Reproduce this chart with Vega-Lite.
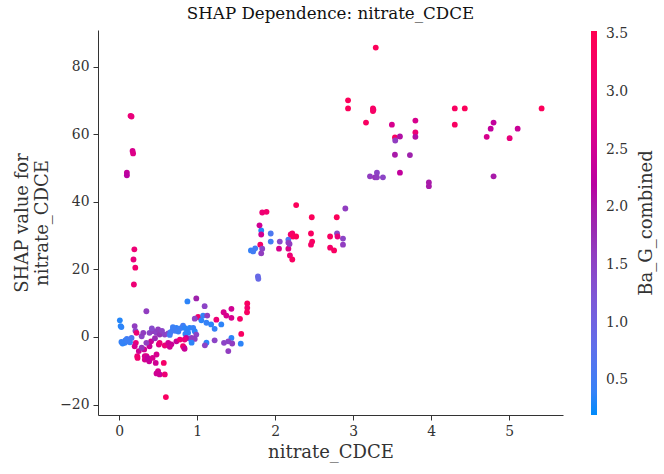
{
  "$schema": "https://vega.github.io/schema/vega-lite/v6.json",
  "width": 465,
  "height": 385,
  "autosize": "none",
  "padding": {"left": 98, "top": 30, "right": 101, "bottom": 59},
  "config": {
    "view": {"stroke": null},
    "font": "DejaVu Serif",
    "axis": {
      "grid": false,
      "domainColor": "#333333",
      "tickColor": "#333333",
      "labelColor": "#333333",
      "titleColor": "#333333",
      "labelFont": "DejaVu Serif",
      "titleFont": "DejaVu Serif",
      "labelFontSize": 13.9,
      "titleFontSize": 18,
      "titleFontWeight": "normal",
      "tickSize": 5,
      "domainWidth": 1,
      "tickWidth": 1
    }
  },
  "title": {
    "text": "SHAP Dependence: nitrate_CDCE",
    "font": "DejaVu Serif",
    "fontSize": 16.7,
    "fontWeight": "normal",
    "color": "#111111",
    "anchor": "middle",
    "offset": 7
  },
  "data": {
    "values": [
      {"x": 0.147, "y": 65.4, "c": 3.0}, {"x": 0.16, "y": 65.2, "c": 2.9},
      {"x": 0.173, "y": 55.0, "c": 2.6}, {"x": 0.18, "y": 54.3, "c": 2.7},
      {"x": 0.1, "y": 48.6, "c": 2.3}, {"x": 0.1, "y": 47.8, "c": 2.2},
      {"x": 0.196, "y": 25.9, "c": 3.0}, {"x": 0.185, "y": 22.9, "c": 2.9},
      {"x": 0.208, "y": 20.5, "c": 3.1}, {"x": 0.19, "y": 15.5, "c": 3.0},

      {"x": 0.01, "y": 4.9, "c": 0.3}, {"x": 0.02, "y": 3.2, "c": 0.3},
      {"x": 0.03, "y": 2.9, "c": 0.35}, {"x": 0.074, "y": -1.75, "c": 0.4},
      {"x": 0.045, "y": -1.95, "c": 0.35}, {"x": 0.118, "y": -1.3, "c": 0.5},
      {"x": 0.16, "y": -0.3, "c": 0.6}, {"x": 0.1, "y": -0.6, "c": 0.5},
      {"x": 0.08, "y": -1.0, "c": 0.45}, {"x": 0.03, "y": -1.5, "c": 0.4},
      {"x": 0.14, "y": -1.6, "c": 0.45},

      {"x": 0.2, "y": 3.2, "c": 1.6}, {"x": 0.21, "y": 1.8, "c": 1.5},
      {"x": 0.224, "y": 1.2, "c": 3.0}, {"x": 0.215, "y": -1.75, "c": 2.9},
      {"x": 0.2, "y": -2.75, "c": 2.6}, {"x": 0.233, "y": -5.7, "c": 3.0},
      {"x": 0.253, "y": -4.2, "c": 2.5}, {"x": 0.237, "y": -6.2, "c": 3.1},
      {"x": 0.33, "y": -5.7, "c": 2.5}, {"x": 0.33, "y": -6.7, "c": 2.6},
      {"x": 0.386, "y": -7.2, "c": 2.4}, {"x": 0.352, "y": -5.7, "c": 2.7},
      {"x": 0.364, "y": -6.2, "c": 2.3}, {"x": 0.43, "y": -6.2, "c": 2.6},
      {"x": 0.48, "y": -5.2, "c": 2.6}, {"x": 0.47, "y": -7.7, "c": 2.5},
      {"x": 0.573, "y": -7.7, "c": 3.2}, {"x": 0.5, "y": -10.1, "c": 2.6},
      {"x": 0.52, "y": -11.1, "c": 2.4}, {"x": 0.48, "y": -10.8, "c": 2.5},
      {"x": 0.586, "y": -11.1, "c": 3.0}, {"x": 0.6, "y": -17.8, "c": 3.3},
      {"x": 0.322, "y": -3.7, "c": 2.5}, {"x": 0.41, "y": -1.3, "c": 2.4},
      {"x": 0.51, "y": -2.25, "c": 2.7}, {"x": 0.586, "y": -2.55, "c": 3.0},
      {"x": 0.834, "y": -3.2, "c": 2.3}, {"x": 0.39, "y": -2.75, "c": 2.4},
      {"x": 0.35, "y": -1.75, "c": 1.6}, {"x": 0.29, "y": -3.2, "c": 1.7},

      {"x": 0.29, "y": 0.2, "c": 1.5}, {"x": 0.31, "y": 1.2, "c": 1.6},
      {"x": 0.39, "y": 1.2, "c": 1.5}, {"x": 0.44, "y": 1.7, "c": 1.6},
      {"x": 0.48, "y": 1.2, "c": 1.5}, {"x": 0.52, "y": 0.7, "c": 1.7},
      {"x": 0.585, "y": 0.7, "c": 1.5}, {"x": 0.5, "y": 2.2, "c": 1.6},
      {"x": 0.63, "y": 1.0, "c": 1.4}, {"x": 0.35, "y": 7.6, "c": 1.6},
      {"x": 0.42, "y": 2.5, "c": 1.4}, {"x": 0.55, "y": 1.8, "c": 1.5},
      {"x": 0.46, "y": -0.4, "c": 1.8},

      {"x": 0.63, "y": -1.75, "c": 2.5}, {"x": 0.67, "y": -2.2, "c": 2.4},
      {"x": 0.735, "y": -1.3, "c": 2.4}, {"x": 0.78, "y": -0.8, "c": 3.0},
      {"x": 0.82, "y": -2.75, "c": 3.1}, {"x": 0.52, "y": -1.75, "c": 3.0},
      {"x": 0.65, "y": -2.9, "c": 2.5},

      {"x": 0.69, "y": 2.2, "c": 0.4}, {"x": 0.735, "y": 2.7, "c": 0.35},
      {"x": 0.8, "y": 2.7, "c": 0.4}, {"x": 0.77, "y": 2.4, "c": 0.45},
      {"x": 0.72, "y": 1.8, "c": 0.5}, {"x": 0.66, "y": 1.4, "c": 0.5},
      {"x": 0.69, "y": 2.9, "c": 0.45}, {"x": 0.82, "y": 3.3, "c": 0.5},
      {"x": 0.85, "y": 0.9, "c": 0.35}, {"x": 0.9, "y": -0.5, "c": 0.4},
      {"x": 0.65, "y": 0.6, "c": 0.5}, {"x": 0.76, "y": 1.6, "c": 0.45},
      {"x": 0.87, "y": 1.6, "c": 0.4},

      {"x": 0.99, "y": 11.4, "c": 1.9}, {"x": 0.876, "y": 10.5, "c": 0.35},
      {"x": 1.097, "y": 9.1, "c": 1.5}, {"x": 1.013, "y": 5.9, "c": 3.1},
      {"x": 1.077, "y": 6.3, "c": 0.4}, {"x": 1.13, "y": 6.3, "c": 1.6},
      {"x": 0.97, "y": 5.4, "c": 1.5}, {"x": 1.055, "y": 4.9, "c": 0.35},
      {"x": 1.12, "y": 4.2, "c": 0.4}, {"x": 1.247, "y": 5.1, "c": 3.0},
      {"x": 1.31, "y": 3.7, "c": 0.35}, {"x": 1.18, "y": 3.7, "c": 0.35},
      {"x": 1.225, "y": 2.4, "c": 0.4}, {"x": 0.84, "y": 2.7, "c": 0.35},
      {"x": 0.905, "y": 2.7, "c": 0.35}, {"x": 0.95, "y": 2.7, "c": 0.4},
      {"x": 0.97, "y": 1.7, "c": 0.35}, {"x": 0.885, "y": 1.2, "c": 0.35},
      {"x": 0.99, "y": 0.7, "c": 1.5}, {"x": 0.86, "y": -0.3, "c": 2.4},
      {"x": 0.93, "y": -0.3, "c": 1.6}, {"x": 0.84, "y": -0.8, "c": 2.9},
      {"x": 0.97, "y": -0.6, "c": 1.6}, {"x": 0.93, "y": -1.7, "c": 0.35},
      {"x": 1.12, "y": -1.7, "c": 0.35}, {"x": 1.1, "y": -2.5, "c": 1.5},
      {"x": 1.225, "y": -1.0, "c": 1.5}, {"x": 0.84, "y": -3.5, "c": 2.4},
      {"x": 1.566, "y": 0.9, "c": 3.3}, {"x": 1.44, "y": -0.3, "c": 0.35},
      {"x": 1.4, "y": -1.3, "c": 1.5}, {"x": 1.345, "y": -1.75, "c": 1.5},
      {"x": 1.4, "y": -4.2, "c": 1.6}, {"x": 1.56, "y": -2.0, "c": 0.35},
      {"x": 1.45, "y": -1.95, "c": 1.6}, {"x": 1.34, "y": 7.3, "c": 2.6},
      {"x": 1.375, "y": 6.3, "c": 2.6}, {"x": 1.44, "y": 5.65, "c": 2.6},
      {"x": 1.44, "y": 8.3, "c": 2.5}, {"x": 1.55, "y": 5.35, "c": 3.2},
      {"x": 1.643, "y": 9.9, "c": 3.3}, {"x": 1.643, "y": 8.6, "c": 3.1},
      {"x": 1.64, "y": 7.3, "c": 3.3},

      {"x": 1.78, "y": 17.9, "c": 0.9}, {"x": 1.785, "y": 17.2, "c": 0.9},
      {"x": 1.69, "y": 25.6, "c": 0.4}, {"x": 1.745, "y": 26.2, "c": 0.5},
      {"x": 1.72, "y": 25.3, "c": 0.5}, {"x": 1.81, "y": 27.3, "c": 3.2},
      {"x": 1.835, "y": 26.1, "c": 1.5}, {"x": 1.822, "y": 24.7, "c": 1.6},
      {"x": 1.822, "y": 31.5, "c": 0.3}, {"x": 1.8, "y": 33.0, "c": 2.5},
      {"x": 1.822, "y": 30.3, "c": 2.5}, {"x": 1.835, "y": 36.8, "c": 3.0},
      {"x": 1.89, "y": 37.0, "c": 3.1}, {"x": 1.944, "y": 30.6, "c": 0.6},
      {"x": 1.944, "y": 28.2, "c": 0.5}, {"x": 2.06, "y": 28.2, "c": 1.4},
      {"x": 2.05, "y": 26.1, "c": 2.6}, {"x": 2.17, "y": 28.8, "c": 0.6},
      {"x": 2.17, "y": 27.9, "c": 1.5}, {"x": 2.17, "y": 26.1, "c": 2.7},
      {"x": 2.2, "y": 30.3, "c": 3.1}, {"x": 2.22, "y": 30.6, "c": 3.2},
      {"x": 2.23, "y": 29.7, "c": 3.3}, {"x": 2.27, "y": 29.7, "c": 3.4},
      {"x": 2.19, "y": 24.1, "c": 3.0}, {"x": 2.22, "y": 22.9, "c": 3.3},
      {"x": 2.27, "y": 39.0, "c": 3.4}, {"x": 2.185, "y": 27.5, "c": 1.6},

      {"x": 2.46, "y": 30.6, "c": 3.3}, {"x": 2.47, "y": 35.4, "c": 3.4},
      {"x": 2.475, "y": 28.2, "c": 3.3}, {"x": 2.46, "y": 27.3, "c": 3.2},
      {"x": 2.705, "y": 29.7, "c": 3.3}, {"x": 2.705, "y": 26.4, "c": 3.2},
      {"x": 2.756, "y": 25.6, "c": 3.3}, {"x": 2.79, "y": 35.4, "c": 3.4},
      {"x": 2.794, "y": 30.6, "c": 1.5}, {"x": 2.8, "y": 29.7, "c": 2.9},
      {"x": 2.87, "y": 29.1, "c": 1.5}, {"x": 2.87, "y": 27.3, "c": 1.6},
      {"x": 2.9, "y": 38.0, "c": 1.6},

      {"x": 2.935, "y": 70.0, "c": 3.4}, {"x": 2.935, "y": 67.6, "c": 3.4},
      {"x": 3.165, "y": 63.4, "c": 3.3}, {"x": 3.254, "y": 67.6, "c": 3.3},
      {"x": 3.254, "y": 66.8, "c": 3.3}, {"x": 3.26, "y": 67.2, "c": 3.2},
      {"x": 3.29, "y": 85.6, "c": 3.4}, {"x": 3.497, "y": 62.8, "c": 2.6},
      {"x": 3.536, "y": 59.0, "c": 3.3}, {"x": 3.54, "y": 58.1, "c": 1.6},
      {"x": 3.6, "y": 59.3, "c": 2.1}, {"x": 3.798, "y": 64.0, "c": 2.6},
      {"x": 3.798, "y": 60.5, "c": 3.0}, {"x": 3.798, "y": 59.2, "c": 2.1},
      {"x": 3.536, "y": 53.9, "c": 2.0}, {"x": 3.728, "y": 53.8, "c": 1.9},
      {"x": 3.305, "y": 48.6, "c": 1.5}, {"x": 3.216, "y": 47.5, "c": 1.6},
      {"x": 3.28, "y": 47.2, "c": 1.7}, {"x": 3.305, "y": 47.2, "c": 1.6},
      {"x": 3.382, "y": 47.2, "c": 1.5}, {"x": 3.6, "y": 48.6, "c": 2.3},
      {"x": 3.971, "y": 45.7, "c": 2.0}, {"x": 3.971, "y": 44.6, "c": 2.0},

      {"x": 4.303, "y": 67.6, "c": 3.3}, {"x": 4.431, "y": 67.6, "c": 3.4},
      {"x": 4.303, "y": 62.8, "c": 3.3}, {"x": 4.8, "y": 63.4, "c": 2.3},
      {"x": 4.763, "y": 61.6, "c": 2.3}, {"x": 5.109, "y": 61.6, "c": 2.4},
      {"x": 4.712, "y": 59.2, "c": 2.6}, {"x": 5.006, "y": 58.8, "c": 2.9},
      {"x": 5.416, "y": 67.6, "c": 3.4}, {"x": 4.8, "y": 47.5, "c": 2.0}
    ]
  },
  "mark": {"type": "point", "filled": true, "size": 34, "opacity": 1},
  "encoding": {
    "x": {
      "field": "x",
      "type": "quantitative",
      "scale": {"domain": [-0.27, 5.69], "nice": false, "zero": false},
      "axis": {"values": [0, 1, 2, 3, 4, 5], "title": "nitrate_CDCE", "labelPadding": 4, "titlePadding": 6}
    },
    "y": {
      "field": "y",
      "type": "quantitative",
      "scale": {"domain": [-23.1, 90.8], "nice": false, "zero": false},
      "axis": {"values": [-20, 0, 20, 40, 60, 80], "title": ["SHAP value for", "nitrate_CDCE"], "labelPadding": 4, "titlePadding": 8}
    },
    "color": {
      "field": "c",
      "type": "quantitative",
      "title": "Ba_G_combined",
      "scale": {
        "domain": [0.2, 1.865, 3.53],
        "range": ["#008bfb", "#9b24ad", "#ff0051"],
        "interpolate": "hcl"
      },
      "legend": {
        "orient": "none",
        "legendX": 493,
        "legendY": 1,
        "direction": "vertical",
        "gradientLength": 384,
        "gradientThickness": 6,
        "gradientStrokeWidth": 0,
        "values": [0.5, 1, 1.5, 2, 2.5, 3, 3.5],
        "format": ".1f",
        "labelOverlap": false,
        "labelFont": "DejaVu Serif",
        "labelFontSize": 13.9,
        "labelColor": "#333333",
        "labelOffset": 9,
        "titleOrient": "right",
        "titleAnchor": "middle",
        "titleFont": "DejaVu Serif",
        "titleFontSize": 18,
        "titleFontWeight": "normal",
        "titleColor": "#333333",
        "titlePadding": 10,
        "encoding": {
          "title": {"angle": {"value": 270}, "baseline": {"value": "top"}}
        }
      }
    }
  }
}
